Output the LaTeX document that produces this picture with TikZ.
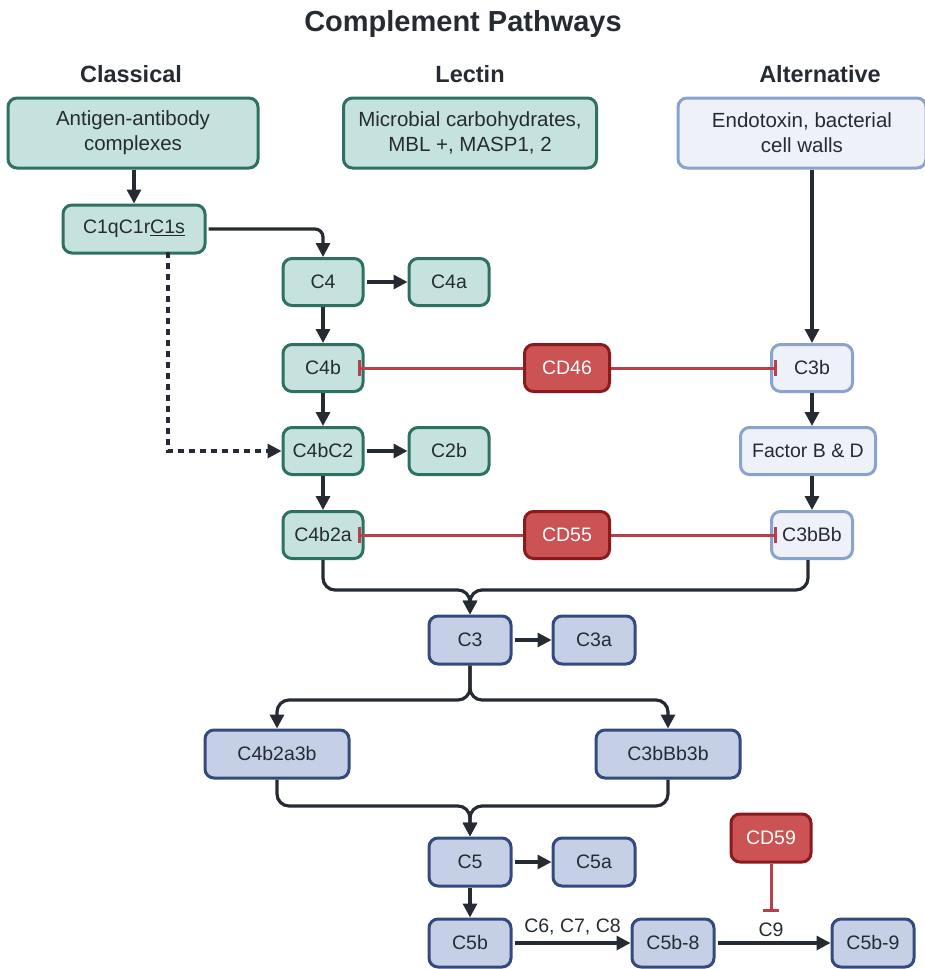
\documentclass[tikz,border=0pt]{standalone}
\usepackage{fontspec}
\setmainfont{Liberation Sans}
\usetikzlibrary{arrows.meta,calc}
\definecolor{teal1}{HTML}{C6E2DF}
\definecolor{teal2}{HTML}{2E7162}
\definecolor{alt1}{HTML}{EEF2F8}
\definecolor{alt2}{HTML}{8AA3CC}
\definecolor{blu1}{HTML}{C5D0E6}
\definecolor{blu2}{HTML}{34497E}
\definecolor{red1}{HTML}{CC5353}
\definecolor{red2}{HTML}{8B1A1F}
\definecolor{redl}{HTML}{B8404A}
\definecolor{ink}{HTML}{262B33}
\tikzset{
  base/.style={rounded corners=9pt, line width=3pt, align=center, font=\fontsize{19.5}{25}\selectfont, text=ink, inner sep=0pt},
  tbox/.style={base, fill=teal1, draw=teal2},
  abox/.style={base, fill=alt1, draw=alt2},
  bbox/.style={base, fill=blu1, draw=blu2},
  rbox/.style={base, fill=red1, draw=red2, text=white},
  arr/.style={draw=ink, line width=3.2pt, -{Triangle[length=14pt,width=14pt]}},
  inh/.style={draw=redl, line width=3pt, -{Bar[width=16pt]}},
  hdr/.style={font=\bfseries\fontsize{23.5}{28}\selectfont, text=ink},
  lbl/.style={font=\fontsize{19.5}{25}\selectfont, text=ink},
}
\begin{document}
\begin{tikzpicture}[x=1pt,y=-1pt]
\useasboundingbox (0,0) rectangle (925,969);
\node[font=\bfseries\fontsize{29}{33}\selectfont, text=ink] (title) at (463,24) {Complement Pathways};
\node[hdr] (h1) at (131,74) {Classical};
\node[hdr] (h2) at (470,74) {Lectin};
\node[hdr] (h3) at (820,74) {Alternative};

\node[tbox, minimum width=250, minimum height=70, font=\fontsize{20.5}{25}\selectfont] (ag) at (133,133) {Antigen-antibody\\complexes};
\node[tbox, minimum width=253, minimum height=70, font=\fontsize{20.5}{25}\selectfont] (mb) at (470,133) {Microbial carbohydrates,\\MBL +, MASP1, 2};
\node[abox, minimum width=248, minimum height=70, font=\fontsize{20.5}{25}\selectfont] (en) at (802,133) {Endotoxin, bacterial\\cell walls};

\node[tbox, minimum width=142, minimum height=48] (c1) at (134,229) {C1qC1r\underline{C1s}};
\node[tbox, minimum width=80, minimum height=47] (c4) at (323,282) {C4};
\node[tbox, minimum width=80, minimum height=47] (c4a) at (449,282) {C4a};
\node[tbox, minimum width=80, minimum height=47] (c4b) at (323,368) {C4b};
\node[rbox, minimum width=85, minimum height=47] (cd46) at (567,368) {CD46};
\node[abox, minimum width=81, minimum height=47] (c3b) at (812,368) {C3b};
\node[tbox, minimum width=80, minimum height=47] (c4bc2) at (323,451) {C4bC2};
\node[tbox, minimum width=80, minimum height=47] (c2b) at (449,451) {C2b};
\node[abox, minimum width=135, minimum height=47] (fbd) at (808,451) {Factor B \& D};
\node[tbox, minimum width=80, minimum height=47] (c4b2a) at (323,535) {C4b2a};
\node[rbox, minimum width=85, minimum height=47] (cd55) at (567,535) {CD55};
\node[abox, minimum width=81, minimum height=47] (c3bbb) at (812,535) {C3bBb};

\node[bbox, minimum width=82, minimum height=48] (c3) at (470,640) {C3};
\node[bbox, minimum width=82, minimum height=48] (c3a) at (594,640) {C3a};
\node[bbox, minimum width=144, minimum height=48] (c4b2a3b) at (277,754) {C4b2a3b};
\node[bbox, minimum width=144, minimum height=48] (c3bbb3b) at (668,754) {C3bBb3b};
\node[bbox, minimum width=82, minimum height=48] (c5) at (470,862) {C5};
\node[bbox, minimum width=82, minimum height=48] (c5a) at (594,862) {C5a};
\node[rbox, minimum width=80, minimum height=48] (cd59) at (771,838) {CD59};
\node[bbox, minimum width=82, minimum height=48] (c5b) at (470,943) {C5b};
\node[bbox, minimum width=82, minimum height=48] (c5b8) at (673,943) {C5b-8};
\node[bbox, minimum width=82, minimum height=48] (c5b9) at (873,943) {C5b-9};

% classical chain
\draw[arr] (ag.south -| c1) -- (c1.north);
\draw[arr, rounded corners=8pt] ([xshift=2]c1.east) -| (c4.north);
\draw[arr, dashed, dash pattern=on 6pt off 5pt, rounded corners=0pt] ([xshift=34,yshift=3]c1.south) |- (c4bc2.west);
\draw[arr] ([xshift=2]c4.east) -- (c4a);
\draw[arr] (c4) -- (c4b);
\draw[arr] (c4b) -- (c4bc2);
\draw[arr] ([xshift=2]c4bc2.east) -- (c2b);
\draw[arr] (c4bc2) -- (c4b2a);
% alternative chain
\draw[arr] (en.south -| c3b) -- (c3b.north);
\draw[arr] (c3b.south) -- (c3b.south |- fbd.north);
\draw[arr] (fbd.south -| c3bbb) -- (c3bbb.north);
% inhibitors
\draw[inh] (cd46.west) -- ([xshift=-7]c4b.east);
\draw[inh] (cd46.east) -- ([xshift=7]c3b.west);
\draw[inh] (cd55.west) -- ([xshift=-7]c4b2a.east);
\draw[inh] (cd55.east) -- ([xshift=7]c3bbb.west);
\coordinate (c9bar) at (771,912);
\draw[inh] (cd59.south) -- (c9bar);
% merge to C3
\coordinate (m1) at (470,590);
\draw[arr, rounded corners=12pt] (c4b2a.south) |- (m1) -- (c3.north);
\draw[arr, rounded corners=12pt] (c3bbb.south -| 808,0) |- (m1) -- (c3.north);
% split from C3
\coordinate (m2) at (470,700);
\draw[arr, rounded corners=12pt] (c3.south) -- (m2) -| (c4b2a3b.north);
\draw[arr, rounded corners=12pt] (c3.south) -- (m2) -| (c3bbb3b.north);
\draw[arr] ([xshift=2]c3.east) -- (c3a);
% merge to C5
\coordinate (m3) at (470,806);
\draw[arr, rounded corners=12pt] (c4b2a3b.south) |- (m3) -- (c5.north);
\draw[arr, rounded corners=12pt] (c3bbb3b.south) |- (m3) -- (c5.north);
\draw[arr] ([xshift=2]c5.east) -- (c5a);
\draw[arr] (c5) -- (c5b);
\draw[arr] ([xshift=2]c5b.east) -- node[lbl, above=3pt] {C6, C7, C8} (c5b8);
\draw[arr] ([xshift=2]c5b8.east) -- (c5b9);
\node[lbl] (c9) at (771,930) {C9};
\end{tikzpicture}
\end{document}
